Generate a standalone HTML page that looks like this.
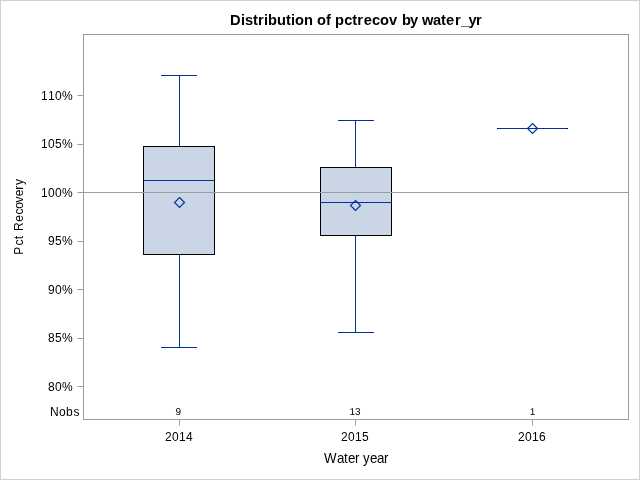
<!DOCTYPE html>
<html>
<head>
<meta charset="utf-8">
<title>Distribution of pctrecov by water_yr</title>
<style>
html,body{margin:0;padding:0;background:#fff;}
body{width:640px;height:480px;overflow:hidden;}
svg{display:block;}
text{font-family:"Liberation Sans",Arial,sans-serif;fill:#000;}
.v{font-size:12px;}
.l{font-size:13.33px;}
.t{font-size:14.67px;font-weight:bold;}
.n{font-size:10px;text-rendering:geometricPrecision;}
</style>
</head>
<body>
<svg width="640" height="480" viewBox="0 0 640 480">
<rect x="0" y="0" width="640" height="480" fill="#fff"/>
<!-- outer border -->
<rect x="0.5" y="0.5" width="639" height="479" fill="none" stroke="#d1d1d1" stroke-width="1" shape-rendering="crispEdges"/>
<!-- title -->
<text class="t" x="230 241 245 253 258 264 268 277 286 291 295 304 313 317 326 331 335 344.2 352.2 357.2 363.7 372 380 389 397 402 410 418 422 433 441 446 455 461 468.6 476" y="25">Distribution of pctrecov by water_yr</text>
<!-- boxes -->
<g shape-rendering="crispEdges">
  <!-- 2014 -->
  <rect x="179" y="75" width="1" height="272" fill="#003399"/>
  <rect x="161" y="75" width="36" height="1" fill="#003399"/>
  <rect x="161" y="347" width="36" height="1" fill="#003399"/>
  <rect x="143.5" y="146.5" width="71" height="108" fill="#cad5e5" stroke="#000" stroke-width="1"/>
  <rect x="144" y="180" width="70" height="1" fill="#003399"/>
  <!-- 2015 -->
  <rect x="355" y="120" width="1" height="212" fill="#003399"/>
  <rect x="338" y="120" width="36" height="1" fill="#003399"/>
  <rect x="338" y="332" width="36" height="1" fill="#003399"/>
  <rect x="320.5" y="167.5" width="71" height="68" fill="#cad5e5" stroke="#000" stroke-width="1"/>
  <rect x="321" y="202" width="70" height="1" fill="#003399"/>
  <!-- 2016 -->
  <rect x="497" y="128" width="71" height="1" fill="#000"/>
  <rect x="498" y="128" width="69" height="1" fill="#003399"/>
</g>
<!-- mean markers -->
<g fill="none" stroke="#003399" stroke-width="1.2">
  <path d="M179.5 197.5 L184.5 202.5 L179.5 207.5 L174.5 202.5 Z"/>
  <path d="M355.5 200.5 L360.5 205.5 L355.5 210.5 L350.5 205.5 Z"/>
  <path d="M532.5 123.5 L537.5 128.5 L532.5 133.5 L527.5 128.5 Z"/>
</g>
<!-- reference line -->
<rect x="84" y="192" width="544" height="1" fill="#989ea1" shape-rendering="crispEdges"/>
<!-- frame -->
<rect x="83.5" y="34.5" width="545" height="385" fill="none" stroke="#989ea1" stroke-width="1" shape-rendering="crispEdges"/>
<!-- ticks -->
<g fill="#989ea1">
  <rect x="77.5" y="95" width="5.5" height="1"/>
  <rect x="77.5" y="144" width="5.5" height="1"/>
  <rect x="77.5" y="192" width="5.5" height="1"/>
  <rect x="77.5" y="241" width="5.5" height="1"/>
  <rect x="77.5" y="289" width="5.5" height="1"/>
  <rect x="77.5" y="338" width="5.5" height="1"/>
  <rect x="77.5" y="386" width="5.5" height="1"/>
  <rect x="179" y="420" width="1" height="5.5"/>
  <rect x="355" y="420" width="1" height="5.5"/>
  <rect x="532" y="420" width="1" height="5.5"/>
</g>
<!-- y tick labels -->
<g>
  <text class="v" x="41 48 55 62" y="100">110%</text>
  <text class="v" x="41 48 55 62" y="148">105%</text>
  <text class="v" x="41 48 55 62" y="197">100%</text>
  <text class="v" x="48 55 62" y="245">95%</text>
  <text class="v" x="48 55 62" y="294">90%</text>
  <text class="v" x="48 55 62" y="342">85%</text>
  <text class="v" x="48 55 62" y="391">80%</text>
  <text class="v" x="50 59 66 73.4" y="416">Nobs</text>
</g>
<!-- nobs values -->
<g>
  <text class="n" x="175.6" y="415">9</text>
  <text class="n" x="349.6 355.1" y="415">13</text>
  <text class="n" x="529.8" y="415">1</text>
</g>
<!-- x tick labels -->
<g>
  <text class="v" x="165 172 179 186" y="441">2014</text>
  <text class="v" x="341 348 355 362" y="441">2015</text>
  <text class="v" x="518 525 532 539" y="441">2016</text>
</g>
<!-- axis labels -->
<text class="l" x="324 337 344 348 355 359 363 370 377 384" y="0" transform="translate(0 463) scale(1 1.045)">Water year</text>
<text class="l" transform="translate(23 255) rotate(-90) scale(0.9 1.02)" x="0.36 10.45 17.54 21.25 26.62 36.86 44.89 51.29 58.33 65.2 72.45 77.78" y="0">Pct Recovery</text>
</svg>
</body>
</html>
